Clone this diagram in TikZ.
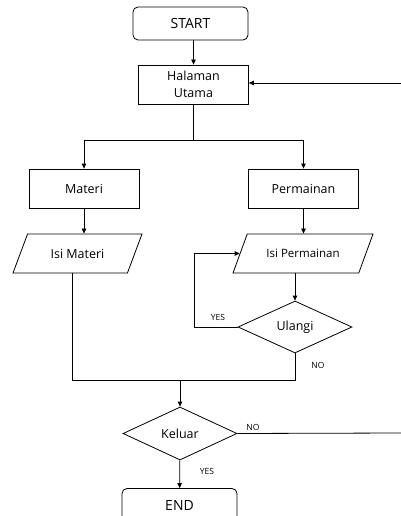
\documentclass[tikz,border=0pt]{standalone}
\usepackage{fontspec}
\setmainfont{Open Sans}
\usetikzlibrary{shapes.geometric,arrows.meta,calc}

\begin{document}
\begin{tikzpicture}[x=1pt,y=-1pt,line width=0.8pt,
    terminal/.style={draw,rounded corners=5pt,minimum width=115pt,minimum height=33pt,inner sep=0pt,font=\fontsize{14}{16}\selectfont},
    process/.style={draw,minimum width=110pt,minimum height=39pt,inner sep=0pt,align=center,font=\fontsize{12.5}{17}\selectfont},
    io/.style={draw,trapezium,trapezium left angle=67,trapezium right angle=113,trapezium stretches body,minimum height=39pt,inner xsep=0pt,inner ysep=12.5pt,font=\fontsize{12.5}{15}\selectfont},
    decision/.style={draw,diamond,aspect=2.2,minimum width=114pt,minimum height=52pt,inner sep=0pt,font=\fontsize{12.5}{15}\selectfont},
    tag/.style={font=\fontsize{8.5}{10}\selectfont,inner sep=0pt},
    arr/.style={-{Triangle[length=5pt,width=4.5pt]}}]
    \clip (0,0) rectangle (401,516);
    \fill[white] (0,0) rectangle (401,516);

    % Boxes
    \node[terminal] (start) at (190.5,23.5) {START};
    \node[process] (main) at (193.5,84.5) {Halaman\\Utama};
    \node[process] (materi) at (84,188.5) {Materi};
    \node[process] (game) at (303.5,188.5) {Permainan};
    \node[io,minimum width=129pt] (isimat) at (77.5,253.5) {Isi Materi};
    \node[io,minimum width=140pt,font=\fontsize{11.5}{14}\selectfont] (isigame) at (303,253.5) {Isi Permainan};
    \node[decision] (ulangi) at (295,327) {Ulangi};
    \node[decision,minimum height=53pt] (keluar) at (180,433.5) {Keluar};
    \node[terminal] (end) at (179.5,505) {END};

    % Points
    \coordinate (backin) at (401,83);
    \coordinate (split) at (193.5,140);
    \coordinate (yesbend) at (194,327);
    \coordinate (matdown) at (72,380);
    \coordinate (join) at (180,380);
    \coordinate (noout) at (401,433);

    % Arrows
    \draw[arr] (start.south -| main) -- (main);
    \draw[arr] (backin) -- (main.east |- backin);
    \draw (main) -- (split);
    \draw[arr] (split) -| (materi);
    \draw[arr] (split) -| (game);
    \draw[arr] (materi) -- (materi.south |- isimat.north);
    \draw[arr] (game) -- (game.south |- isigame.north);
    \draw[arr] (isigame.south -| ulangi) -- (ulangi);
    \draw[arr] (ulangi.west) -- (yesbend) |- (isigame.west);
    \draw (isimat.south -| matdown) -- (matdown) -- (matdown -| ulangi) -- (ulangi.south);
    \draw[arr] (join) -- (keluar);
    \draw (keluar.east) -- (noout);
    \draw[arr] (keluar) -- (end);

    % Labels
    \node[tag] (yes1) at (218,317) {YES};
    \node[tag] (no1) at (318,365) {NO};
    \node[tag] (no2) at (253,427) {NO};
    \node[tag] (yes2) at (207,471) {YES};
\end{tikzpicture}
\end{document}
